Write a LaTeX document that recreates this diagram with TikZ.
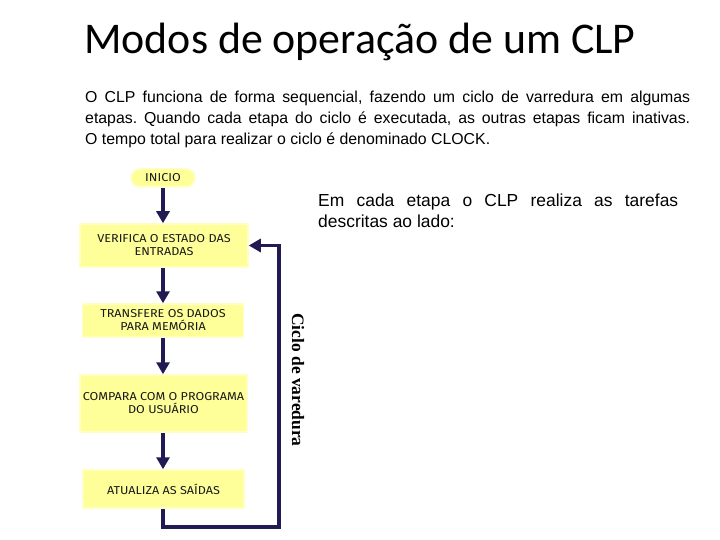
\documentclass[tikz,border=0pt]{standalone}
\usepackage{fontspec}
\setmainfont{Liberation Sans}
\newfontfamily\titlefont{Carlito}
\newfontfamily\boxfont[FakeStretch=1.1]{Fira Sans}
\newfontfamily\serifbold{Liberation Serif}
\usetikzlibrary{arrows.meta,positioning}
\definecolor{amarelo}{HTML}{FFFF99}
\definecolor{bordaamarela}{HTML}{FFFFC4}
\definecolor{azulseta}{HTML}{221A52}
\frenchspacing

\begin{document}
\begin{tikzpicture}[x=1bp, y=-1bp, every node/.style={inner sep=0pt},
  etapa/.style={fill=amarelo, draw=bordaamarela, line width=1.5bp, align=center,
    font=\boxfont\fontsize{11.5}{13}\selectfont, text=black!90},
  seta/.style={draw=azulseta, line width=3.5bp, -{Triangle[length=12bp,width=13bp]}}]
  \useasboundingbox (0,0) rectangle (720,540);
  % titulo e textos
  \node (titulo) at (360,42) {\titlefont\fontsize{44}{48}\selectfont Modos de operação de um CLP};
  \node[anchor=north west, text width=605bp, align=justify,
    font=\fontsize{15.9}{21}\selectfont] (texto) at (85,91)
    {O CLP funciona de forma sequencial, fazendo um ciclo de varredura em algumas\linebreak
     etapas. Quando cada etapa do ciclo é executada, as outras etapas ficam inativas.\linebreak
     O tempo total para realizar o ciclo é denominado CLOCK.};
  \node[anchor=north west, text width=360bp, align=justify,
    font=\fontsize{17.5}{21}\selectfont] (lado) at (318,194)
    {Em cada etapa o CLP realiza as tarefas\linebreak descritas ao lado:};
  % fluxograma
  \node[etapa, rounded corners=9bp, minimum width=64bp, minimum height=18bp] (inicio) at (163,178) {INICIO};
  \node[etapa, minimum width=168bp, minimum height=43bp] (verifica) at (164,245.5) {VERIFICA O ESTADO DAS\\ENTRADAS};
  \node[etapa, minimum width=161bp, minimum height=33bp] (transfere) at (163,320.5) {TRANSFERE OS DADOS\\PARA MEMÓRIA};
  \node[etapa, minimum width=167bp, minimum height=57bp] (compara) at (163.5,403.5) {COMPARA COM O PROGRAMA\\DO USUÁRIO};
  \node[etapa, minimum width=161bp, minimum height=38bp] (atualiza) at (163.5,489) {ATUALIZA AS SAÍDAS};
  \draw[seta] (inicio.south -| 163,0) -- (verifica.north -| 163,0);
  \draw[seta] (verifica.south -| 163,0) -- (transfere.north -| 163,0);
  \draw[seta] (transfere.south -| 163,0) -- (compara.north -| 163,0);
  \draw[seta] (compara.south -| 163,0) -- (atualiza.north -| 163,0);
  % ciclo de volta
  \coordinate (volta) at (279,527);
  \draw[seta] (atualiza.south -| 163,0) |- (volta) |- (verifica.east);
  \node[rotate=-90, font=\serifbold\bfseries\fontsize{17.5}{20}\selectfont] (ciclo) at (298,380) {Ciclo de varedura};
\end{tikzpicture}
\end{document}
